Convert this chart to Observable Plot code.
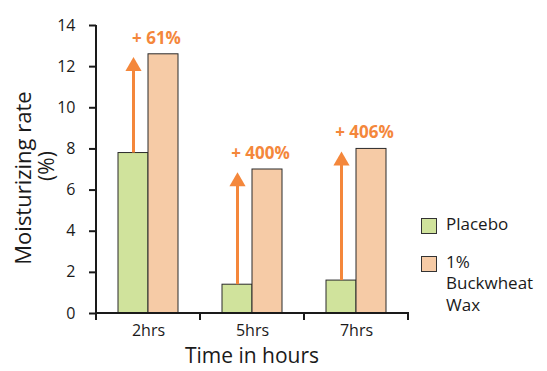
<!DOCTYPE html>
<html>
<head>
<meta charset="utf-8">
<script src="https://cdn.jsdelivr.net/npm/d3@7"></script>
<script src="https://cdn.jsdelivr.net/npm/@observablehq/plot@0.6"></script>
<style>
  html, body { margin: 0; padding: 0; background: #fff; }
  #wrap { position: relative; width: 547px; height: 371px; font-family: "Open Sans", sans-serif; color: #1a1a1a; }
  #legend { position: absolute; left: 421px; top: 213px; font-size: 17px; line-height: 21.5px; }
  #legend .item { display: flex; align-items: flex-start; }
  #legend .sw { width: 14px; height: 14px; border: 1px solid #333; margin-top: 5px; margin-right: 9px; flex: none; }
  svg g[aria-label*="y-axis"] line, svg g[aria-label*="y-axis"] path { stroke-width: 2px; }
</style>
</head>
<body>
<div id="wrap"></div>
<script>
const times = ["2hrs", "5hrs", "7hrs"];
const series = ["Placebo", "1% Buckwheat Wax"];
const legendLines = [["Placebo"], ["1%", "Buckwheat", "Wax"]];
const placebo = [7.8, 1.4, 1.6];
const buckwheat = [12.6, 7.0, 8.0];
const increases = ["+ 61%", "+ 400%", "+ 406%"];
const yTicks = [0, 2, 4, 6, 8, 10, 12, 14];
const colors = ["#d0e39c", "#f6cba6"];
const orange = "#f4873b";

const rows = times.flatMap((t, i) => [
  {time: t, series: series[0], value: placebo[i], top: buckwheat[i], label: increases[i]},
  {time: t, series: series[1], value: buckwheat[i], top: buckwheat[i], label: increases[i]}
]);

const chart = Plot.plot({
  width: 547,
  height: 371,
  marginLeft: 95,
  marginRight: 139,
  marginTop: 25,
  marginBottom: 58,
  style: {fontFamily: "'Open Sans', sans-serif", fontSize: "16px", color: "#1a1a1a", background: "#fff"},
  facet: {data: rows, x: "time"},
  fx: {domain: times, padding: 0, axis: "bottom", label: null, tickSize: 0, tickPadding: 11},
  x: {domain: series, paddingInner: 0, paddingOuter: 0.68, axis: null},
  y: {domain: [0, 14], ticks: yTicks, tickSize: 7, tickPadding: 14, label: null},
  color: {domain: series, range: colors},
  marks: [
    Plot.barY(rows, {x: "series", y: "value", fill: "series", stroke: "#2a2a2a", strokeWidth: 1}),
    Plot.ruleX(rows, {filter: d => d.series === series[0], x: "series", y1: "top", y2: "value", stroke: orange, strokeWidth: 3, insetTop: 12}),
    Plot.dot(rows, {filter: d => d.series === series[0], x: "series", y: "top", symbol: "triangle", r: 6, fill: orange, stroke: "none", dy: 12}),
    Plot.text(rows, {filter: d => d.series === series[1], x: "series", y: "value", text: "label", dy: -16, dx: -7, fill: orange, fontWeight: "bold", fontSize: 17})
  ]
});

document.getElementById("wrap").appendChild(chart);

// axis lines and group boundary ticks, drawn from the plot's own scales
const svg = d3.select(chart);
const ys = chart.scale("y");
const fxs = chart.scale("fx");
const y0 = ys.apply(0), y14 = ys.apply(yTicks[yTicks.length - 1]);
const bounds = times.map(t => fxs.apply(t));
bounds.push(fxs.apply(times[times.length - 1]) + fxs.bandwidth);
const xl = bounds[0], xr = bounds[bounds.length - 1];
const g = svg.append("g").attr("stroke", "#1a1a1a").attr("stroke-width", 2);
g.append("line").attr("x1", xl).attr("x2", xl).attr("y1", y14).attr("y2", y0 + 1);
g.append("line").attr("x1", xl - 1).attr("x2", xr + 1).attr("y1", y0).attr("y2", y0);
bounds.forEach(b => g.append("line").attr("x1", b).attr("x2", b).attr("y1", y0).attr("y2", y0 + 7));

// axis titles
svg.append("text").attr("transform", `translate(31,178) rotate(-90)`).attr("text-anchor", "middle")
  .attr("font-size", 22).attr("fill", "#1a1a1a").text("Moisturizing rate");
svg.append("text").attr("transform", `translate(54,166) rotate(-90)`).attr("text-anchor", "middle")
  .attr("font-size", 21).attr("fill", "#1a1a1a").text("(%)");
svg.append("text").attr("x", (xl + xr) / 2).attr("y", 363).attr("text-anchor", "middle")
  .attr("font-size", 21).attr("fill", "#1a1a1a").text("Time in hours");

// legend
const legend = d3.select("#wrap").append("div").attr("id", "legend");
series.forEach((s, i) => {
  const item = legend.append("div").attr("class", "item").style("margin-top", i ? "16px" : "0px");
  item.append("div").attr("class", "sw").style("background", colors[i]);
  item.append("div").html(legendLines[i].join("<br>"));
});
</script>
</body>
</html>
